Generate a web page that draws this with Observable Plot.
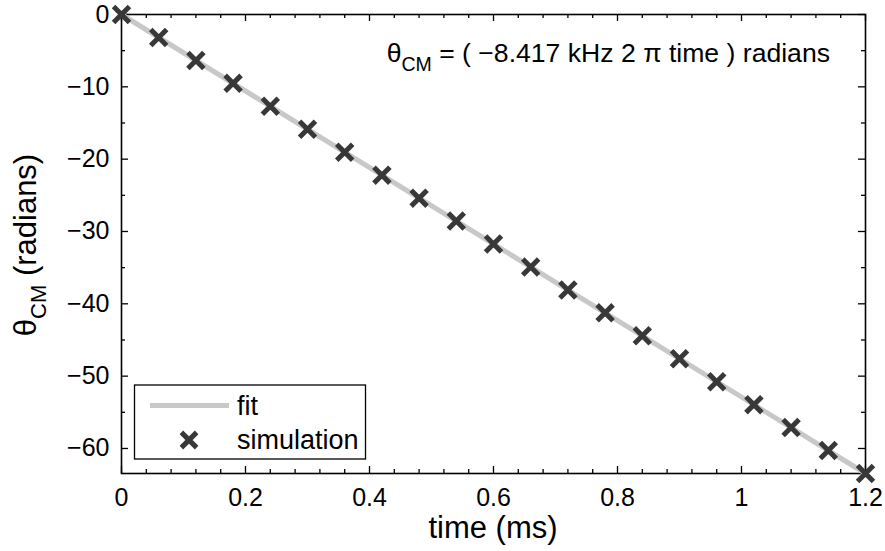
<!DOCTYPE html>
<html><head><meta charset="utf-8">
<script src="https://cdn.jsdelivr.net/npm/d3@7"></script>
<script src="https://cdn.jsdelivr.net/npm/@observablehq/plot@0.6"></script>
<style>
body{margin:0;background:#fff}
#chart{width:885px;height:551px}
svg{font-family:"Liberation Sans",Arial,Helvetica,sans-serif}
</style>
</head><body><div id="chart"></div>
<script>
// simulation samples (time in ms, theta in radians)
const simTime = [0,0.06,0.12,0.18,0.24,0.30,0.36,0.42,0.48,0.54,0.60,0.66,0.72,0.78,0.84,0.90,0.96,1.02,1.08,1.14,1.20];
const simTheta = [0,-3.17,-6.35,-9.52,-12.69,-15.87,-19.04,-22.21,-25.39,-28.56,-31.73,-34.90,-38.08,-41.25,-44.42,-47.60,-50.77,-53.94,-57.11,-60.29,-63.46];
// fit line end points
const fitTime = [0, 1.2];
const fitTheta = [0, -63.46];
// ticks
const xTicks = [0,0.2,0.4,0.6,0.8,1,1.2];
const xMinor = [0.04,0.08,0.12,0.16,0.24,0.28,0.32,0.36,0.44,0.48,0.52,0.56,0.64,0.68,0.72,0.76,0.84,0.88,0.92,0.96,1.04,1.08,1.12,1.16];
const yTicks = [0,-10,-20,-30,-40,-50,-60];
const yMinor = [-5,-15,-25,-35,-45,-55];
const legendLabels = ["fit","simulation"];
const annotation = {main:"\u03B8", sub:"CM", rest:" = ( \u22128.417 kHz 2 \u03C0 time ) radians"};
const xLabel = "time (ms)";
const yLabel = {main:"\u03B8", sub:"CM", rest:" (radians)"};

const sim = simTime.map((t,i)=>({t, th: simTheta[i]}));
const fit = fitTime.map((t,i)=>({t, th: fitTheta[i]}));

const W = 885, H = 551, mL = 121, mR = 20, mT = 14, mB = 78;
const fw = W - mL - mR, fh = H - mT - mB;
const fmt = d => d < 0 ? "\u2212" + Math.abs(d) : String(d);
const ink = "#000";

const plot = Plot.plot({
  width: W, height: H,
  marginLeft: mL, marginRight: mR, marginTop: mT, marginBottom: mB,
  style: {fontFamily: '"Liberation Sans",Arial,Helvetica,sans-serif', background: "#fff", color: "#000"},
  x: {domain: [0, 1.2]},
  y: {domain: [fitTheta[1], 0]},
  marks: [
    Plot.axisX(xTicks, {tickSize: 0, tickPadding: 15, fontSize: 25, tickFormat: fmt, label: null}),
    Plot.axisY(yTicks, {tickSize: 0, tickPadding: 12, fontSize: 25, tickFormat: fmt, label: null}),
    // inward ticks: bottom/top
    Plot.tickX(xTicks, {x: d=>d, insetTop: fh - 7, stroke: ink, strokeWidth: 1.3}),
    Plot.tickX(xTicks, {x: d=>d, insetBottom: fh - 7, stroke: ink, strokeWidth: 1.3}),
    Plot.tickX(xMinor, {x: d=>d, insetTop: fh - 4, stroke: ink, strokeWidth: 1.3}),
    Plot.tickX(xMinor, {x: d=>d, insetBottom: fh - 4, stroke: ink, strokeWidth: 1.3}),
    Plot.tickY(yTicks, {y: d=>d, insetRight: fw - 7, stroke: ink, strokeWidth: 1.3}),
    Plot.tickY(yTicks, {y: d=>d, insetLeft: fw - 7, stroke: ink, strokeWidth: 1.3}),
    Plot.tickY(yMinor, {y: d=>d, insetRight: fw - 4, stroke: ink, strokeWidth: 1.3}),
    Plot.tickY(yMinor, {y: d=>d, insetLeft: fw - 4, stroke: ink, strokeWidth: 1.3}),
    Plot.frame({stroke: ink, strokeWidth: 1.6}),
    Plot.line(fit, {x: "t", y: "th", stroke: "#c8c8c8", strokeWidth: 5}),
    Plot.dot(sim, {x: "t", y: "th", symbol: "times", r: 7.3, stroke: "#383838", strokeWidth: 5})
  ]
});
document.getElementById("chart").appendChild(plot);

const svg = d3.select(plot);
const font = '"Liberation Sans",Arial,Helvetica,sans-serif';

// annotation
const ann = svg.append("text").attr("x", 830).attr("y", 62).attr("text-anchor", "end")
  .attr("font-size", 26.6).attr("font-family", font).attr("fill", "#000");
ann.append("tspan").text(annotation.main);
ann.append("tspan").attr("font-size", 19.5).attr("dy", 9).text(annotation.sub);
ann.append("tspan").attr("dy", -9).text(annotation.rest);

// x label
svg.append("text").attr("x", 493).attr("y", 538).attr("text-anchor", "middle")
  .attr("font-size", 31).attr("font-family", font).attr("fill", "#000").text(xLabel);

// y label
const yl = svg.append("text").attr("transform", "translate(36,245) rotate(-90)").attr("text-anchor", "middle")
  .attr("font-size", 31).attr("font-family", font).attr("fill", "#000");
yl.append("tspan").text(yLabel.main);
yl.append("tspan").attr("font-size", 22).attr("dy", 10).text(yLabel.sub);
yl.append("tspan").attr("dy", -10).text(yLabel.rest);

// legend
const lg = svg.append("g");
lg.append("rect").attr("x", 134.5).attr("y", 385).attr("width", 231).attr("height", 74)
  .attr("fill", "#fff").attr("stroke", "#000").attr("stroke-width", 1.3);
lg.append("line").attr("x1", 150).attr("x2", 229).attr("y1", 405.5).attr("y2", 405.5)
  .attr("stroke", "#c8c8c8").attr("stroke-width", 5);
lg.append("path").attr("transform", "translate(189,440)")
  .attr("d", d3.symbol(d3.symbolTimes, Math.PI * 49)())
  .attr("fill", "none").attr("stroke", "#383838").attr("stroke-width", 5);
lg.selectAll("text.lg").data(legendLabels).join("text").attr("class", "lg")
  .attr("x", 237).attr("y", (d,i) => i ? 449 : 415).attr("text-anchor", "start")
  .attr("font-size", 27).attr("font-family", font).attr("fill", "#000").text(d => d);
</script>
</body></html>
